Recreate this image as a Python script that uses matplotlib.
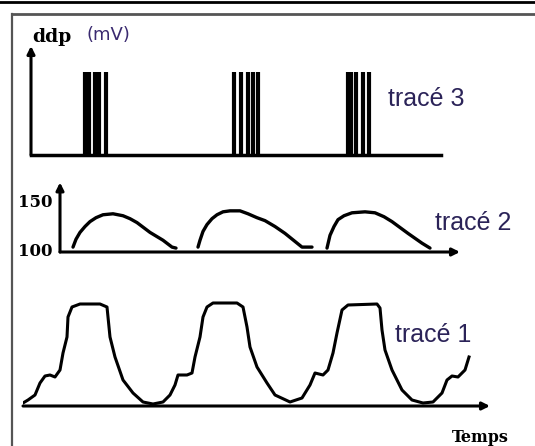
import matplotlib
matplotlib.use("Agg")
import matplotlib.pyplot as plt
from matplotlib.lines import Line2D

# trace 3 : bursts of action potentials (time of each spike, arbitrary units)
spikes3 = [54, 58, 64, 68, 75, 203, 210, 217, 222, 227, 317, 320, 325, 332, 338]
spike_height = 83
end3 = 410

# trace 2 : three slow waves, ddp in mV
hump2_t = [
    [13, 16, 20, 25, 30, 36, 43, 53, 63, 70, 77, 90, 103, 112, 116],
    [138, 140, 143, 147, 152, 157, 163, 170, 180, 188, 197, 205, 215, 225, 242, 252],
    [267, 270, 274, 278, 284, 292, 305, 315, 324, 332, 348, 362, 370],
]
hump2_v = [
    [105, 113, 120, 126, 131, 135, 138, 139, 137, 134, 130, 120, 112, 105, 104],
    [105, 112, 121, 128, 134, 138, 141, 142, 142, 139, 135, 132, 126, 119, 105, 105],
    [104, 117, 126, 133, 137, 140, 141, 140, 136, 131, 119, 109, 104],
]
ticks2 = [100, 150]
end2 = 400

# trace 1 : recorded ddp (arbitrary units)
t1 = [0, 5, 12, 17, 22, 27, 32, 37, 40, 44, 45, 49, 57, 77, 84, 85, 87, 92, 100,
      110, 120, 130, 140, 147, 152, 155, 164, 169, 172, 177, 180, 184, 190, 214,
      220, 224, 227, 234, 244, 252, 267, 279, 287, 292, 300, 305, 310, 314, 319,
      325, 354, 357, 359, 362, 369, 379, 389, 400, 410, 419, 424, 429, 435, 442, 446]
v1 = [3, 6, 11, 23, 30, 31, 29, 36, 53, 69, 89, 99, 102, 102, 99, 89, 69, 49, 26,
      13, 4, 2, 4, 11, 21, 31, 31, 33, 49, 69, 89, 99, 103, 103,
      99, 79, 59, 39, 23, 11, 4, 8, 21, 33, 31, 36, 53, 73, 96,
      101, 102, 98, 76, 56, 36, 16, 6, 3, 4, 13, 26, 30, 29, 36, 49]
end1 = 467

W, H = 535, 446
fig = plt.figure(figsize=(W / 100, H / 100), dpi=100)


def px_axes(left, bottom, width, height):
    ax = fig.add_axes([left / W, 1 - bottom / H, width / W, height / H])
    ax.set_axis_off()
    return ax


def arrow(ax, x0, y0, x1, y1):
    ax.annotate("", xy=(x1, y1), xytext=(x0, y0),
                arrowprops=dict(arrowstyle="-|>", color="black", lw=2.2,
                                mutation_scale=11, shrinkA=0, shrinkB=0),
                annotation_clip=False)


# frame
fig.add_artist(Line2D([0, 1], [1 - 2 / H, 1 - 2 / H], color="black", lw=2))
fig.add_artist(Line2D([12 / W, 1], [1 - 14 / H, 1 - 14 / H], color="#555555", lw=2))
fig.add_artist(Line2D([12 / W, 12 / W], [0, 1 - 14 / H], color="#555555", lw=1.6))

txt_col = "#2b2358"

# trace 3
ax3 = px_axes(31, 155, 420, 115)
ax3.set_xlim(0, 420)
ax3.set_ylim(0, 115)
ax3.plot([0, end3], [0, 0], color="black", lw=2.5, clip_on=False)
arrow(ax3, 0, 0, 0, 109)
ax3.vlines(spikes3, 0, spike_height, color="black", lw=3)
ax3.text(1, 118, "ddp", fontsize=13.5, fontweight="bold", family="DejaVu Serif",
         va="center", ha="left")
ax3.text(55, 120, "(mV)", fontsize=13, color="#3a2a70", family="DejaVu Sans",
         va="center", ha="left")
ax3.text(357, 56, "tracé 3", fontsize=18, color=txt_col, family="Liberation Sans",
         va="center", ha="left")

# trace 2
ax2 = px_axes(60, 252, 410, 75)
ax2.set_xlim(0, 410)
ax2.set_ylim(100, 100 + 75 / 0.98)
arrow(ax2, 0, 100, end2, 100)
arrow(ax2, 0, 100, 0, 171)
for ht, hv in zip(hump2_t, hump2_v):
    ax2.plot(ht, hv, color="black", lw=2.4, solid_capstyle="round",
             solid_joinstyle="round")
for tk in ticks2:
    ax2.text(-8, tk, str(tk), fontsize=12, fontweight="bold", family="DejaVu Serif",
             va="center", ha="right")
ax2.text(375, 130, "tracé 2", fontsize=18, color=txt_col, family="Liberation Sans",
         va="center", ha="left")

# trace 1
ax1 = px_axes(23, 406, 475, 120)
ax1.set_xlim(0, 475)
ax1.set_ylim(0, 120)
arrow(ax1, 0, 0, end1, 0)
ax1.plot(t1, v1, color="black", lw=2.2, solid_joinstyle="round")
ax1.text(372, 71, "tracé 1", fontsize=18, color=txt_col, family="Liberation Sans",
         va="center", ha="left")
ax1.text(429, -32, "Temps", fontsize=11.5, fontweight="bold", family="DejaVu Serif",
         va="center", ha="left")

fig.savefig("out.png", dpi=100)
